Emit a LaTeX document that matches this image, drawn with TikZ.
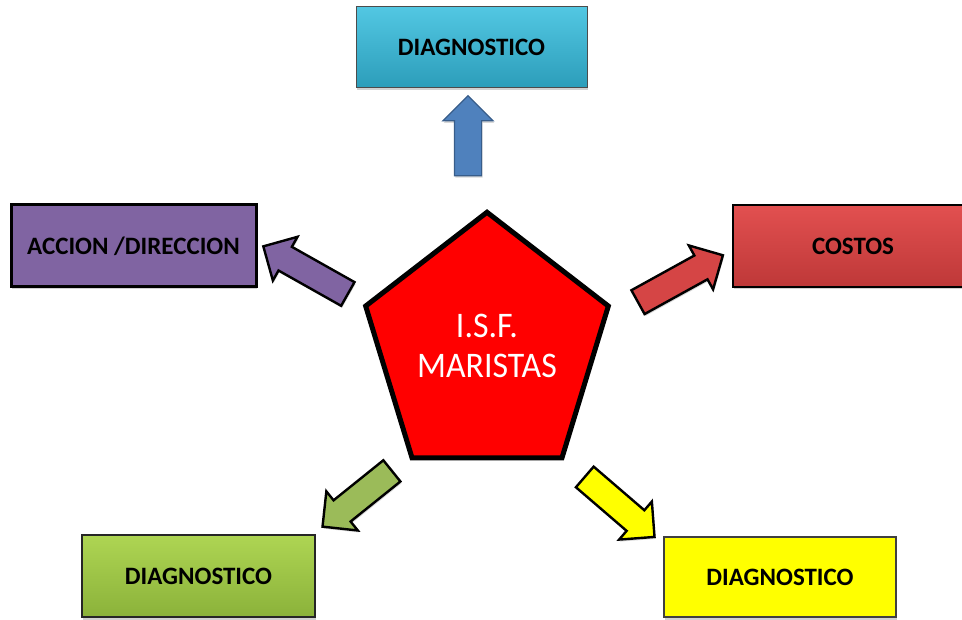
\documentclass[tikz,border=0pt]{standalone}
\usepackage{fontspec}
\setmainfont{Carlito}
\usetikzlibrary{shapes.geometric, shapes.arrows, shadows}

\definecolor{cyantop}{HTML}{52C7E2}
\definecolor{cyanbot}{HTML}{2C9DBA}
\definecolor{lila}{HTML}{8064A2}
\definecolor{rojotop}{HTML}{E25050}
\definecolor{rojobot}{HTML}{BE3838}
\definecolor{verdetop}{HTML}{AED553}
\definecolor{verdebot}{HTML}{8BB23A}
\definecolor{amarillo}{HTML}{FFFF00}
\definecolor{azul}{HTML}{4F81BD}
\definecolor{azulborde}{HTML}{385D8A}
\definecolor{flecharoja}{HTML}{D54545}
\definecolor{flechaverde}{HTML}{9BBB59}

\tikzset{
  box/.style={draw, rectangle, inner sep=0pt,
    font=\bfseries\fontsize{25}{30}\selectfont,
    drop shadow={shadow xshift=1pt, shadow yshift=-2.5pt, opacity=0.35}},
  blockarrow/.style={single arrow, draw=black, line width=2.4pt,
    inner xsep=0pt, inner ysep=12.4pt,
    single arrow head extend=11.5pt, single arrow head indent=0pt,
    drop shadow={shadow xshift=1pt, shadow yshift=-2pt, opacity=0.3}}
}

\begin{document}
\begin{tikzpicture}[x=1pt, y=-1pt]
  \clip (0,0) rectangle (962,620);
  \fill [white] (0,0) rectangle (962,620);

  % centro
  \node [regular polygon, regular polygon sides=5, minimum size=267pt,
         xscale=0.94, fill=red, draw=black, line width=5pt, text=white,
         align=center, font=\fontsize{36}{40}\selectfont]
        (isf) at (487,348) {\raisebox{5pt}{I.S.F.}\\\raisebox{5pt}{MARISTAS}};

  % cajas
  \node [box, minimum width=231pt, minimum height=81pt, draw=black!70,
         line width=1pt, top color=cyantop, bottom color=cyanbot]
        (diagtop) at (471.5,47.5) {DIAGNOSTICO};
  \node [box, minimum width=245pt, minimum height=82pt, fill=lila,
         line width=3pt] (accion) at (133.5,246) {ACCION /DIRECCION};
  \node [box, minimum width=240pt, minimum height=82pt, line width=2.5pt,
         top color=rojotop, bottom color=rojobot] (costos) at (853,246) {COSTOS};
  \node [box, minimum width=233pt, minimum height=82pt, line width=2pt,
         draw=black!85, top color=verdetop, bottom color=verdebot]
        (diagleft) at (198.5,576) {DIAGNOSTICO};
  \node [box, minimum width=232pt, minimum height=80pt, line width=2.5pt,
         draw=black!75, fill=amarillo] (diagright) at (780,577) {DIAGNOSTICO};

  % flechas
  \node [blockarrow, draw=azulborde, line width=1.2pt, inner ysep=13pt,
         single arrow head extend=11.5pt, fill=azul, minimum height=80pt,
         rotate=90] (uparrow) at (468,142.5) {};
  \node [blockarrow, fill=lila, minimum height=97pt, rotate=150.6]
        (accionarrow) at (311.5,273.5) {};
  \node [blockarrow, fill=flecharoja, minimum height=97pt, rotate=28.9]
        (costosarrow) at (674.5,282) {};
  \node [blockarrow, fill=flechaverde, minimum height=89pt, rotate=218.8]
        (leftarrow) at (362.5,494.5) {};
  \node [blockarrow, fill=amarillo, minimum height=92pt, rotate=-40.7]
        (rightarrow) at (614.5,502.5) {};
\end{tikzpicture}
\end{document}
